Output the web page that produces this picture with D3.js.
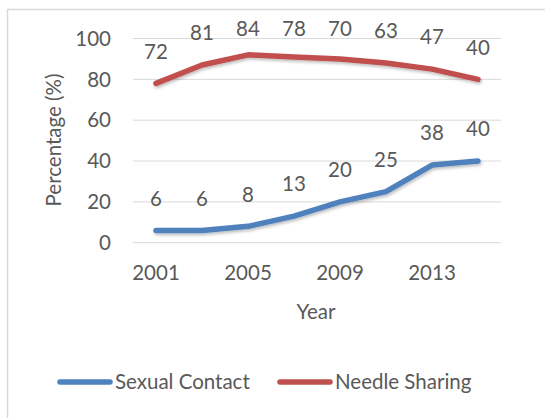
<!DOCTYPE html>
<html>
<head>
<meta charset="utf-8">
<script src="https://cdn.jsdelivr.net/npm/d3@7"></script>
<style>
  body { margin: 0; background: #fff; }
  svg text { font-family: Lato, "Liberation Sans", sans-serif; fill: #595959; font-size: 20.5px; }
</style>
</head>
<body>
<div id="chart"></div>
<script>
// Chart data (stacked line chart: needle sharing is drawn on top of sexual contact)
const years = ["2001", "2003", "2005", "2007", "2009", "2011", "2013", "2015"];
const sexualContact = [6, 6, 8, 13, 20, 25, 38, 40];
const needleSharing = [72, 81, 84, 78, 70, 63, 47, 40];
const yTicks = [0, 20, 40, 60, 80, 100];
const xTickLabels = ["2001", "2005", "2009", "2013"];

function create_line_chart(width, height) {
    const plot = { left: 133, right: 501, top: 38.5, bottom: 242.7 };

    const svg = d3.select("#chart").append("svg")
        .attr("width", width)
        .attr("height", height);

    // soft shadow like the office chart
    const defs = svg.append("defs");
    const f = defs.append("filter").attr("id", "shadow")
        .attr("x", "-10%").attr("y", "-30%").attr("width", "120%").attr("height", "160%");
    f.append("feDropShadow")
        .attr("dx", 1).attr("dy", 2).attr("stdDeviation", 1.5)
        .attr("flood-color", "#000").attr("flood-opacity", 0.25);

    // outer chart border (runs off the picture on the right and bottom)
    svg.append("rect")
        .attr("x", 7.5).attr("y", 9.5)
        .attr("width", 600).attr("height", 500)
        .attr("fill", "none")
        .attr("stroke", "#d9d9d9")
        .attr("stroke-width", 1.5);

    const x = d3.scaleBand().domain(years).range([plot.left, plot.right]);
    const y = d3.scaleLinear().domain([0, 100]).range([plot.bottom, plot.top]);
    const cx = d => x(d) + x.bandwidth() / 2;

    // gridlines
    svg.append("g").selectAll("line")
        .data(yTicks)
        .enter().append("line")
        .attr("x1", plot.left).attr("x2", plot.right)
        .attr("y1", d => y(d)).attr("y2", d => y(d))
        .attr("stroke", "#d9d9d9")
        .attr("stroke-width", 1);

    // y tick labels
    svg.append("g").selectAll("text")
        .data(yTicks)
        .enter().append("text")
        .attr("x", 111)
        .attr("y", d => y(d))
        .attr("dy", "0.35em")
        .attr("text-anchor", "end")
        .text(d => d);

    // x tick labels (every other year)
    svg.append("g").selectAll("text")
        .data(xTickLabels)
        .enter().append("text")
        .attr("x", d => cx(d))
        .attr("y", 273)
        .attr("dy", "0.35em")
        .attr("text-anchor", "middle")
        .text(d => d);

    // series, stacked
    const stackedNeedle = needleSharing.map((v, i) => v + sexualContact[i]);
    const series = [
        { name: "Sexual Contact", color: "#4f81bd", plotted: sexualContact, labels: sexualContact },
        { name: "Needle Sharing", color: "#c0504d", plotted: stackedNeedle, labels: needleSharing }
    ];

    const line = d3.line()
        .x((d, i) => cx(years[i]))
        .y(d => y(d));

    series.forEach(s => {
        svg.append("path")
            .datum(s.plotted)
            .attr("d", line)
            .attr("fill", "none")
            .attr("stroke", s.color)
            .attr("stroke-width", 5.5)
            .attr("stroke-linecap", "round")
            .attr("stroke-linejoin", "round")
            .attr("filter", "url(#shadow)");

        // data labels show the raw value, placed above the point
        svg.append("g").selectAll("text")
            .data(s.labels)
            .enter().append("text")
            .attr("x", (d, i) => cx(years[i]))
            .attr("y", (d, i) => Math.max(y(s.plotted[i]) - 32, 29))
            .attr("dy", "0.35em")
            .attr("text-anchor", "middle")
            .text(d => d);
    });

    // axis titles
    svg.append("text")
        .attr("transform", "translate(54,140) rotate(-90)")
        .attr("dy", "0.35em")
        .attr("text-anchor", "middle")
        .text("Percentage (%)");

    svg.append("text")
        .attr("x", 316)
        .attr("y", 312)
        .attr("dy", "0.35em")
        .attr("text-anchor", "middle")
        .text("Year");

    // legend
    const legendX = [60, 280];
    const legend = svg.append("g").selectAll("g")
        .data(series)
        .enter().append("g")
        .attr("transform", (d, i) => "translate(" + legendX[i] + ",382)");
    legend.append("line")
        .attr("x1", 0).attr("x2", 50)
        .attr("stroke", d => d.color)
        .attr("stroke-width", 5.5)
        .attr("stroke-linecap", "round");
    legend.append("text")
        .attr("x", 55)
        .attr("dy", "0.35em")
        .text(d => d.name);
}

create_line_chart(545, 418);
</script>
</body>
</html>
